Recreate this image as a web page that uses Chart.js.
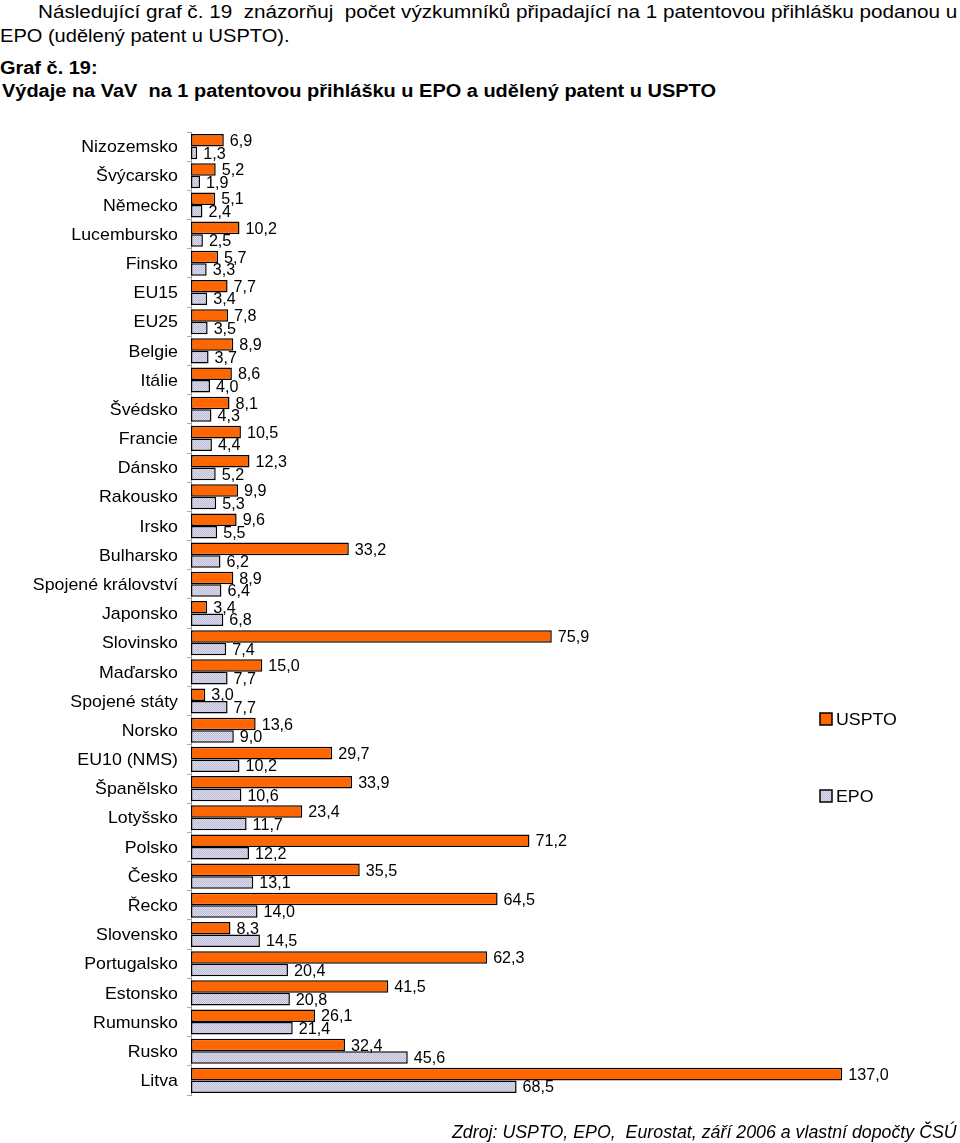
<!DOCTYPE html>
<html>
<head>
<meta charset="utf-8">
<script src="https://cdn.jsdelivr.net/npm/chart.js@4.4.0/dist/chart.umd.min.js"></script>
<style>
    html, body { margin: 0; padding: 0; background: #fff; }
    body { width: 960px; height: 1143px; position: relative; overflow: hidden; font-family: "Liberation Sans", Arial, sans-serif; }
    .txt { position: absolute; white-space: pre; font-size: 17.5px; line-height: 1; color: #000; transform-origin: 0 0; }
    .b { font-weight: bold; }
    .i { font-style: italic; }
    #wrap { position: absolute; left: 0; top: 0; width: 960px; height: 1143px; }
</style>
</head>
<body>
<div class="txt" data-w="919" style="left:38px; top:4px;">Následující graf č. 19  znázorňuj  počet výzkumníků připadající na 1 patentovou přihlášku podanou u</div>
<div class="txt" data-w="290" style="left:0px; top:28px;">EPO (udělený patent u USPTO).</div>
<div class="txt b" data-w="98" style="left:0px; top:60px;">Graf č. 19:</div>
<div class="txt b" data-w="714" style="left:2px; top:83px;">Výdaje na VaV  na 1 patentovou přihlášku u EPO a udělený patent u USPTO</div>
<div id="wrap"><canvas id="barChart"></canvas></div>
<div class="txt i" data-w="505" style="left:452px; top:1124px;">Zdroj: USPTO, EPO,  Eurostat, září 2006 a vlastní dopočty ČSÚ</div>

<script>
const countries = ['Nizozemsko', 'Švýcarsko', 'Německo', 'Lucembursko', 'Finsko', 'EU15', 'EU25', 'Belgie',
    'Itálie', 'Švédsko', 'Francie', 'Dánsko', 'Rakousko', 'Irsko', 'Bulharsko', 'Spojené království',
    'Japonsko', 'Slovinsko', 'Maďarsko', 'Spojené státy', 'Norsko', 'EU10 (NMS)', 'Španělsko', 'Lotyšsko',
    'Polsko', 'Česko', 'Řecko', 'Slovensko', 'Portugalsko', 'Estonsko', 'Rumunsko', 'Rusko', 'Litva'];
const uspto = [6.9, 5.2, 5.1, 10.2, 5.7, 7.7, 7.8, 8.9, 8.6, 8.1, 10.5, 12.3, 9.9, 9.6, 33.2, 8.9,
    3.4, 75.9, 15.0, 3.0, 13.6, 29.7, 33.9, 23.4, 71.2, 35.5, 64.5, 8.3, 62.3, 41.5, 26.1, 32.4, 137.0];
const epo = [1.3, 1.9, 2.4, 2.5, 3.3, 3.4, 3.5, 3.7, 4.0, 4.3, 4.4, 5.2, 5.3, 5.5, 6.2, 6.4,
    6.8, 7.4, 7.7, 7.7, 9.0, 10.2, 10.6, 11.7, 12.2, 13.1, 14.0, 14.5, 20.4, 20.8, 21.4, 45.6, 68.5];

const FONT = '17px "Liberation Sans", Arial, sans-serif';

// stretch the html text lines to the widths seen in the picture
document.querySelectorAll('.txt').forEach(el => {
    const w = +el.dataset.w;
    el.style.transform = 'scaleX(' + (w / el.offsetWidth) + ')';
});

// dotted lavender fill for EPO bars
function makePattern() {
    const c = document.createElement('canvas');
    c.width = 2; c.height = 2;
    const g = c.getContext('2d');
    g.fillStyle = '#dcdcec';
    g.fillRect(0, 0, 2, 2);
    g.fillStyle = '#bcbcd6';
    g.fillRect(0, 0, 1, 1);
    g.fillRect(1, 1, 1, 1);
    return g.createPattern(c, 'repeat');
}

function wideText(ctx, text, x, y, align, stretch) {
    ctx.save();
    ctx.translate(x, y);
    ctx.scale(stretch, 1);
    ctx.textAlign = align;
    ctx.textBaseline = 'middle';
    ctx.fillText(text, 0, 0);
    ctx.restore();
}

const fmt = v => v.toFixed(1).replace('.', ',');

const labelsPlugin = {
    id: 'labelsPlugin',
    afterDatasetsDraw(chart) {
        const ctx = chart.ctx;
        ctx.save();
        ctx.font = FONT;
        ctx.fillStyle = '#000';
        chart.data.datasets.forEach((ds, di) => {
            chart.getDatasetMeta(di).data.forEach((bar, i) => {
                wideText(ctx, fmt(ds.data[i]), bar.x + 6, bar.y + 1, 'left', 0.95);
            });
        });
        // category names
        const yScale = chart.scales.y;
        chart.data.labels.forEach((lab, i) => {
            wideText(ctx, lab, 178, yScale.getPixelForValue(i) + 1, 'right', 1.045);
        });
        // legend
        const legendY = [719, 796];
        chart.data.datasets.forEach((ds, di) => {
            const y = legendY[di];
            ctx.fillStyle = ds.backgroundColor;
            ctx.fillRect(820, y - 6, 12, 12);
            ctx.lineWidth = 1.5;
            ctx.strokeStyle = '#000';
            ctx.strokeRect(820, y - 6, 12, 12);
            ctx.fillStyle = '#000';
            wideText(ctx, ds.label, 836, y + 1, 'left', 1.045);
        });
        ctx.restore();
    }
};

Chart.defaults.animation = false;

new Chart(document.getElementById('barChart'), {
    type: 'bar',
    data: {
        labels: countries,
        datasets: [{
            label: 'USPTO',
            data: uspto,
            backgroundColor: '#ff6600',
            borderColor: '#000',
            borderWidth: 1.5,
            borderSkipped: false,
            categoryPercentage: 0.86,
            barPercentage: 1.0
        }, {
            label: 'EPO',
            data: epo,
            backgroundColor: makePattern(),
            borderColor: '#000',
            borderWidth: 1.5,
            borderSkipped: false,
            categoryPercentage: 0.86,
            barPercentage: 1.0
        }]
    },
    options: {
        indexAxis: 'y',
        responsive: true,
        maintainAspectRatio: false,
        layout: { padding: { top: 132, bottom: 48, left: 0, right: 56 } },
        plugins: {
            legend: { display: false },
            tooltip: { enabled: false }
        },
        scales: {
            x: {
                display: false,
                min: 0,
                max: 150
            },
            y: {
                offset: true,
                ticks: { display: false },
                grid: {
                    drawOnChartArea: false,
                    tickLength: 4,
                    color: '#aaa',
                    offset: true
                },
                border: { color: '#999', width: 1 },
                afterFit(scale) {
                    scale.width = 191;
                }
            }
        }
    },
    plugins: [labelsPlugin]
});
</script>
</body>
</html>
